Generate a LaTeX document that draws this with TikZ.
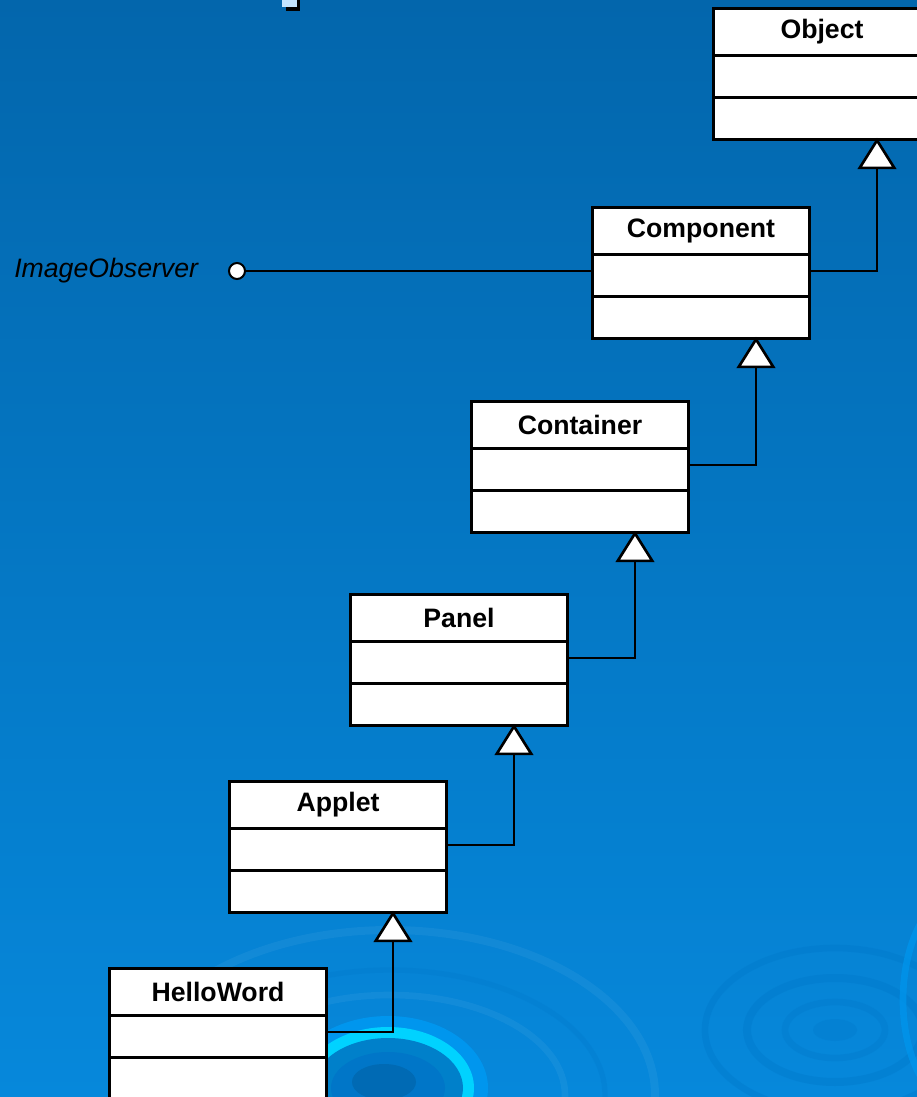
\documentclass[tikz,border=0pt]{standalone}
\usepackage{fontspec}
\setmainfont{Liberation Sans}
\usetikzlibrary{arrows.meta,calc}

\definecolor{slidetop}{RGB}{3,102,172}
\definecolor{slidebottom}{RGB}{6,136,219}
\definecolor{ripplelight}{RGB}{0,150,238}
\definecolor{ripplecyan}{RGB}{0,210,255}
\definecolor{rippledark}{RGB}{0,118,200}
\definecolor{bulletblue}{RGB}{195,228,255}

\tikzset{
	classhead/.style={draw,fill=white,line width=2.25pt,minimum width=162.75pt,minimum height=35.25pt,inner sep=0pt,anchor=north west,font=\fontsize{20}{24}\selectfont\bfseries},
	classbody/.style={draw,fill=white,line width=2.25pt,minimum width=162.75pt,minimum height=63pt,inner sep=0pt,anchor=north},
	inherit/.style={line width=1.5pt,shorten >=-2pt,-{Triangle[length=23.5pt,width=29pt,fill=white,line width=2pt]}},
}

\begin{document}
\begin{tikzpicture}[x=0.75pt,y=-0.75pt]
	\useasboundingbox (0,0) rectangle (917,1097);
	\clip (0,0) rectangle (917,1097);
	% background
	\shade[top color=slidetop,bottom color=slidebottom] (0,0) rectangle (917,1097);
	\draw[white,opacity=0.05,line width=6pt] (390,1095) ellipse (265 and 165);
	\draw[rippledark,opacity=0.25,line width=4pt] (390,1095) ellipse (215 and 125);
	\draw[white,opacity=0.05,line width=5pt] (390,1095) ellipse (175 and 100);
	\fill[ripplelight] (388,1088) ellipse (100 and 72);
	\fill[ripplecyan] (388,1088) ellipse (86 and 61);
	\fill[ripplelight!85!black] (388,1088) ellipse (75 and 50);
	\fill[rippledark] (388,1088) ellipse (57 and 36);
	\fill[rippledark!90!black] (384,1082) ellipse (32 and 18);
	\draw[rippledark,opacity=0.35,line width=5pt] (835,1030) ellipse (130 and 82);
	\draw[rippledark,opacity=0.35,line width=6pt] (835,1030) ellipse (88 and 52);
	\draw[rippledark,opacity=0.3,line width=5pt] (835,1030) ellipse (50 and 28);
	\fill[rippledark,opacity=0.25] (835,1030) ellipse (22 and 11);
	\draw[ripplelight,opacity=0.7,line width=5pt] (965,1000) ellipse (62 and 110);
	% bullet
	\fill[black] (286,0) rectangle (300,11);
	\fill[bulletblue] (282,0) rectangle (297,7);

	% classes
	\node[classhead] (object) at (712,6.5) {Object};
	\node[classbody,yshift=2.25pt] (objectbody) at (object.south) {};
	\draw[line width=2.25pt] (objectbody.west) -- (objectbody.east);

	\node[classhead] (component) at (591,205.5) {Component};
	\node[classbody,yshift=2.25pt] (componentbody) at (component.south) {};
	\draw[line width=2.25pt] (componentbody.west) -- (componentbody.east);

	\node[classhead] (container) at (470,399.5) {Container};
	\node[classbody,yshift=2.25pt] (containerbody) at (container.south) {};
	\draw[line width=2.25pt] (containerbody.west) -- (containerbody.east);

	\node[classhead] (panel) at (349,592.5) {Panel};
	\node[classbody,yshift=2.25pt] (panelbody) at (panel.south) {};
	\draw[line width=2.25pt] (panelbody.west) -- (panelbody.east);

	\node[classhead] (applet) at (228,779.5) {Applet};
	\node[classbody,yshift=2.25pt] (appletbody) at (applet.south) {};
	\draw[line width=2.25pt] (appletbody.west) -- (appletbody.east);

	\node[classhead] (helloword) at (108,966.5) {HelloWord};
	\node[classbody,yshift=2.25pt] (hellowordbody) at (helloword.south) {};
	\draw[line width=2.25pt] (hellowordbody.west) -- (hellowordbody.east);

	% interface
	\node[anchor=west,inner sep=0pt,font=\fontsize{20}{24}\selectfont\itshape] (observer) at (14,271) {ImageObserver};
	\node[draw,fill=white,circle,minimum size=12pt,inner sep=0pt,line width=1.5pt] (observerball) at (237,271) {};
	\draw[line width=1.5pt] (observerball) -- (observerball -| componentbody.west);

	% inheritance
	\draw[inherit] ($(componentbody.north east)+(0,18)$) -| ($(objectbody.south)!.5!(objectbody.south east)$);
	\draw[inherit] ($(containerbody.north east)+(0,18)$) -| ($(componentbody.south)!.5!(componentbody.south east)$);
	\draw[inherit] ($(panelbody.north east)+(0,18)$) -| ($(containerbody.south)!.5!(containerbody.south east)$);
	\draw[inherit] ($(appletbody.north east)+(0,18)$) -| ($(panelbody.south)!.5!(panelbody.south east)$);
	\draw[inherit] ($(hellowordbody.north east)+(0,18)$) -| ($(appletbody.south)!.5!(appletbody.south east)$);
\end{tikzpicture}
\end{document}
